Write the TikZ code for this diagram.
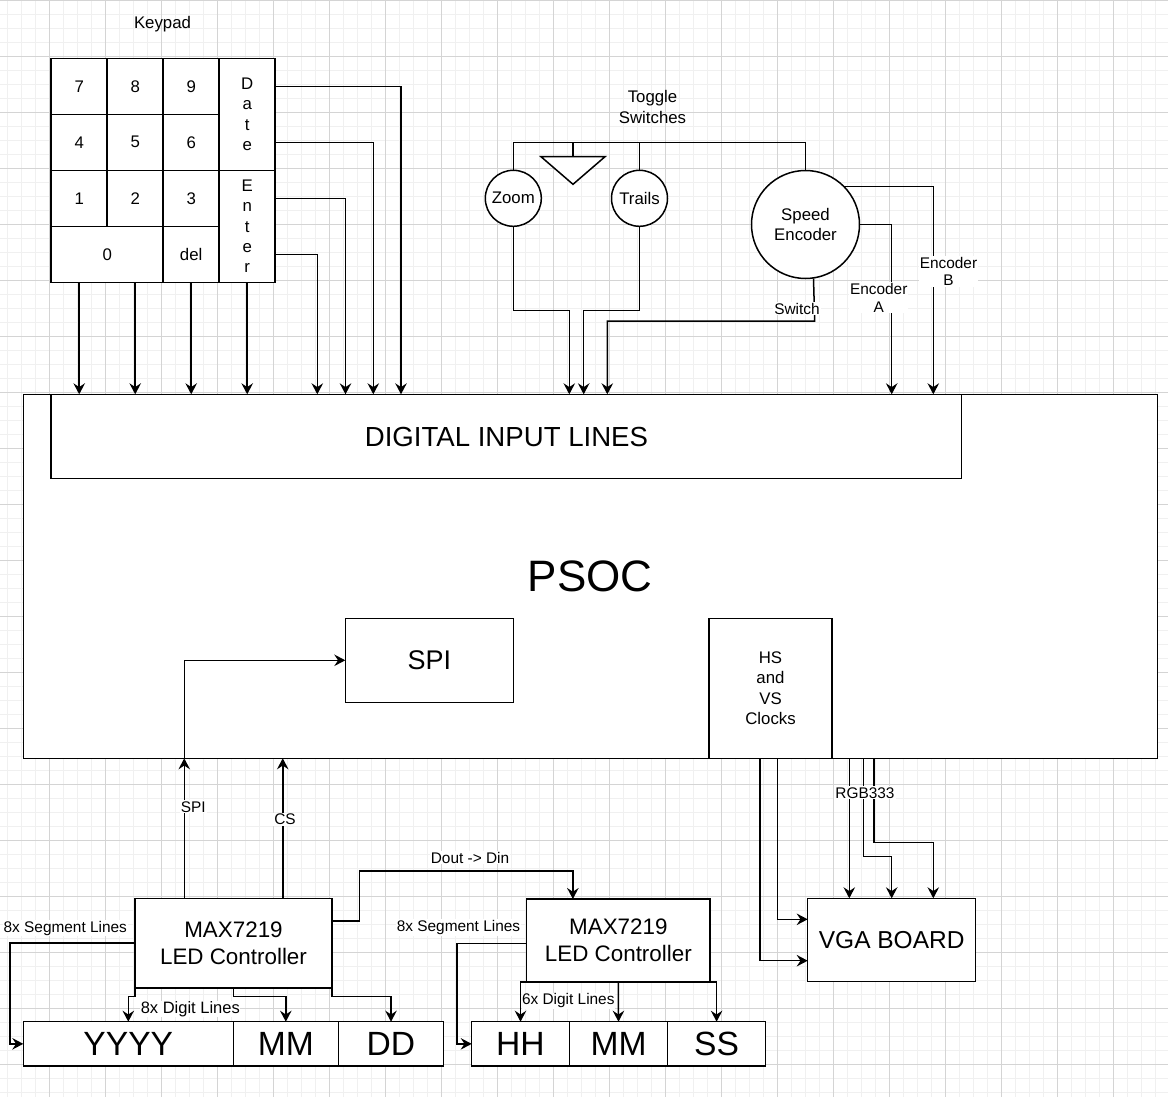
\documentclass[tikz,border=0pt]{standalone}
\usepackage{fontspec}
\setmainfont{Liberation Sans}
\usetikzlibrary{arrows.meta,calc}
\begin{document}
\begin{tikzpicture}[x=1pt,y=-1pt,
  wire/.style={line width=1.5pt, draw=black},
  arr/.style={wire, -{Stealth[length=11pt,width=11.5pt,inset=3.8pt]}},
  box/.style={draw=black, line width=1.5pt, fill=white, inner sep=0pt, outer sep=0pt, align=center, anchor=north west, font=\fontsize{16.8}{20.4}\selectfont},
  circ/.style={draw=black, line width=1.5pt, fill=white, circle, inner sep=0pt, outer sep=0pt, align=center, font=\fontsize{16.8}{20.2}\selectfont},
  elab/.style={fill=white, inner sep=1pt, align=center, font=\fontsize{15.4}{17.6}\selectfont},
  txt/.style={align=center, inner sep=0pt, font=\fontsize{16.8}{20.6}\selectfont},
  minorgrid/.style={draw=black!6, line width=1pt},
  majorgrid/.style={draw=black!17, line width=1pt}
]
\useasboundingbox (0,0) rectangle (1168,1097);
\fill[white] (0,0) rectangle (1168,1097);
% grid
\foreach \i in {0,...,83} { \draw[minorgrid] ({7.3+14*\i},0) -- ({7.3+14*\i},1097); }
\foreach \i in {0,...,78} { \draw[minorgrid] (0,{0.3+14*\i}) -- (1168,{0.3+14*\i}); }
\foreach \i in {0,...,19} { \draw[majorgrid] ({49.3+56*\i},0) -- ({49.3+56*\i},1097); }
\foreach \i in {0,...,19} { \draw[majorgrid] (0,{0.3+56*\i}) -- (1168,{0.3+56*\i}); }

% ---------- PSOC ----------
\node[box, minimum width=1134pt, minimum height=364pt, font=\fontsize{44}{52}\selectfont] (psoc) at (23.3,394.3) {PSOC};
\node[box, minimum width=910.5pt, minimum height=84.4pt, font=\fontsize{27.6}{33}\selectfont] (din) at (51.2,394.3) {DIGITAL INPUT LINES};
\node[box, minimum width=168pt, minimum height=84pt, font=\fontsize{27}{32}\selectfont] (spi) at (345.3,618.3) {SPI};
\node[box, minimum width=123pt, minimum height=140pt] (hs) at (709,618.3) {HS\\and\\VS\\Clocks};

% ---------- Keypad ----------
\node[txt] (keypadlbl) at (162.5,24.5) {Keypad};
\node[box, minimum width=56pt, minimum height=56pt] (k7) at (51.2,58.3) {7};
\node[box, minimum width=56pt, minimum height=56pt] (k8) at (107.2,58.3) {8};
\node[box, minimum width=56pt, minimum height=56pt] (k9) at (163.2,58.3) {9};
\node[box, minimum width=56pt, minimum height=56pt] (k4) at (51.2,114.3) {4};
\node[box, minimum width=56pt, minimum height=56pt] (k5) at (107.2,114.3) {5};
\node[box, minimum width=56pt, minimum height=56pt] (k6) at (163.2,114.3) {6};
\node[box, minimum width=56pt, minimum height=56pt] (k1) at (51.2,170.3) {1};
\node[box, minimum width=56pt, minimum height=56pt] (k2) at (107.2,170.3) {2};
\node[box, minimum width=56pt, minimum height=56pt] (k3) at (163.2,170.3) {3};
\node[box, minimum width=112pt, minimum height=56pt] (k0) at (51.2,226.3) {0};
\node[box, minimum width=56pt, minimum height=56pt] (kdel) at (163.2,226.3) {del};
\node[box, minimum width=56pt, minimum height=112pt] (kdate) at (219.2,58.3) {D\\a\\t\\e};
\node[box, minimum width=56pt, minimum height=112pt] (kenter) at (219.2,170.3) {E\\n\\t\\e\\r};

\draw[arr] (k1.south |- k0.south) -- (k1.south |- psoc.north);
\draw[arr] (k2.south |- k0.south) -- (k2.south |- psoc.north);
\draw[arr] (kdel.south) -- (kdel.south |- psoc.north);
\draw[arr] (kenter.south) -- (kenter.south |- psoc.north);
\draw[arr] ([yshift=28pt]kdate.east) -| (401,0 |- psoc.north);
\draw[arr] ([yshift=-28pt]kdate.east) -| (373.3,0 |- psoc.north);
\draw[arr] ([yshift=28pt]kenter.east) -| (345.5,0 |- psoc.north);
\draw[arr] ([yshift=-28pt]kenter.east) -| (317.3,0 |- psoc.north);

% ---------- Toggle switches & encoder ----------
\node[txt] (togglelbl) at (652.5,107) {Toggle\\Switches};
\coordinate (tbus) at (0,142.3);
\node[circ, minimum size=56pt] (zoom) at (513.3,198.3) {Zoom};
\node[circ, minimum size=56pt] (trails) at (639.5,198.3) {Trails};
\node[circ, minimum size=108pt] (enc) at (805.5,224.5) {Speed\\Encoder};
\coordinate (tritop) at (573,156.7);
\draw[wire, fill=white] (541,156.7) -- (605,156.7) -- (573,184.3) -- cycle;
\draw[wire] (zoom.north) -- (zoom.north |- tbus) -- (enc.north |- tbus) -- (enc.north);
\draw[wire] (trails.north) -- (trails.north |- tbus);
\draw[wire] (tritop) -- (tritop |- tbus);

\draw[arr] (zoom.south) -- ++(0,84) -| (569.3,0 |- psoc.north);
\draw[arr] (trails.south) -- ++(0,84) -| (583.7,0 |- psoc.north);
\draw[arr] ([xshift=8pt]enc.south) -- ++(1.2,42.7) -| (607.3,0 |- psoc.north);
\draw[arr] (enc.east) -| (891.7,0 |- psoc.north);
\draw[arr] (enc.north east) -| (933.3,0 |- psoc.north);
\node[elab] (lswitch) at (797,308.5) {Switch};
\node[elab] (lenca) at (878.7,297.8) {Encoder\\A};
\node[elab] (lencb) at (948.5,271.5) {Encoder\\B};

% ---------- LED controllers ----------
\node[box, minimum width=197pt, minimum height=89.7pt, font=\fontsize{22.4}{26.9}\selectfont] (max1) at (135,898.3) {MAX7219\\LED Controller};
\node[box, minimum width=183.3pt, minimum height=83pt, font=\fontsize{22.4}{26.9}\selectfont] (max2) at (526.7,899) {MAX7219\\LED Controller};

\node[box, minimum width=210pt, minimum height=44.3pt, font=\fontsize{33.6}{40}\selectfont] (yyyy) at (23.3,1021.7) {YYYY};
\node[box, minimum width=105pt, minimum height=44.3pt, font=\fontsize{33.6}{40}\selectfont] (mm1) at (233.3,1021.7) {MM};
\node[box, minimum width=105.4pt, minimum height=44.3pt, font=\fontsize{33.6}{40}\selectfont] (dd) at (338.3,1021.7) {DD};
\node[box, minimum width=97.6pt, minimum height=44.3pt, font=\fontsize{33.6}{40}\selectfont] (hh) at (471.7,1021.7) {HH};
\node[box, minimum width=98.4pt, minimum height=44.3pt, font=\fontsize{33.6}{40}\selectfont] (mm2) at (569.3,1021.7) {MM};
\node[box, minimum width=97.8pt, minimum height=44.3pt, font=\fontsize{33.6}{40}\selectfont] (ss) at (667.7,1021.7) {SS};

\node[box, minimum width=168pt, minimum height=83.4pt, font=\fontsize{24.5}{29}\selectfont] (vga) at (807.7,898.3) {VGA BOARD};

% SPI / CS
\coordinate (spiin) at (184.25,0 |- psoc.south);
\draw[arr] ([xshift=-49.25pt]max1.north) -- (spiin);
\draw[arr] (spiin) |- (spi.west);
\draw[arr] ([xshift=49.25pt]max1.north) -- (282.75,0 |- psoc.south);
\node[elab] (lspi) at (193.3,806.7) {SPI};
\node[elab] (lcs) at (285,819.3) {CS};

% Dout -> Din
\draw[arr] ([yshift=22pt]max1.east) -- ++(27.3,0) -- ++(0,-50.3) -| ([xshift=-45.5pt]max2.north);
\node[elab] (ldout) at (470,857.5) {Dout -> Din};

% segment lines
\draw[arr] (max1.west) -- ++(-125,0) |- (yyyy.west);
\draw[arr] ([yshift=-2.8pt]max2.west) -- ++(-69.5,0) |- (hh.west);
\node[elab] (lseg1) at (65.3,928.3) {8x Segment Lines};
\node[elab] (lseg2) at (458.5,927.5) {8x Segment Lines};

% digit lines
\draw[arr] (max1.south west) -- ++(0,8.7) -| (yyyy.north);
\draw[arr] (max1.south) -- ++(0,8.7) -| (mm1.north);
\draw[arr] (max1.south east) -- ++(0,8.7) -| (dd.north);
\node[elab, inner sep=0.5pt, font=\fontsize{16.5}{19}\selectfont] (ldig1) at (190.3,1009.3) {8x Digit Lines};
\draw[arr] (max2.south west) -| (hh.north);
\draw[arr] (max2.south) -- (mm2.north);
\draw[arr] (max2.south east) -| (ss.north);
\node[elab, inner sep=0.5pt] (ldig2) at (568.3,1001) {6x Digit Lines};

% VGA
\draw[arr] ([xshift=-10.5pt]hs.south) |- ([yshift=-20.7pt]vga.west);
\draw[arr] ([xshift=6.8pt]hs.south) |- ([yshift=20.7pt]vga.west);
\draw[arr] (849.3,0 |- psoc.south) -- (849.3,0 |- vga.north);
\draw[arr] (863.7,0 |- psoc.south) -- (863.7,856.7) -| (vga.north);
\draw[arr] (874,0 |- psoc.south) -- (874,842.3) -| (933.3,0 |- vga.north);
\node[elab] (lrgb) at (865,792.7) {RGB333};
\end{tikzpicture}
\end{document}
